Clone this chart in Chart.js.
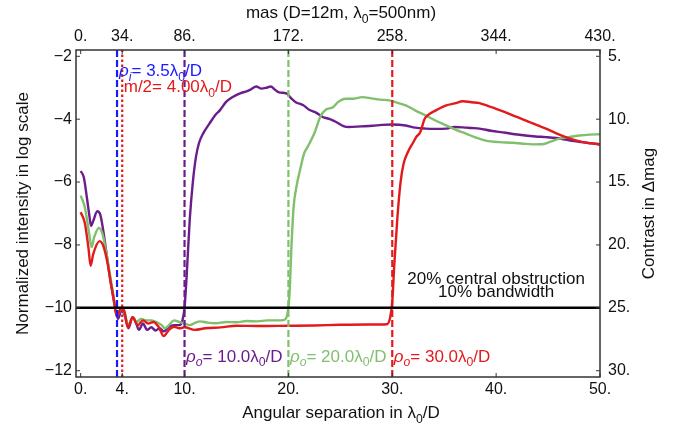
<!DOCTYPE html>
<html>
<head>
<meta charset="utf-8">
<script src="https://cdn.jsdelivr.net/npm/chart.js@4.4.1/dist/chart.umd.min.js"></script>
<style>
  body { margin: 0; background: #fff; }
  #wrap { width: 681px; height: 429px; }
</style>
</head>
<body>
<div id="wrap"><canvas id="contrast" width="681" height="429"></canvas></div>
<script>
// separation in lambda0/D, intensity as log10
const sepTicks = [0, 4, 10, 20, 30, 40, 50];
const sepTickLabels = ['0.', '4.', '10.', '20.', '30.', '40.', '50.'];
const masTickLabels = ['0.', '34.', '86.', '172.', '258.', '344.', '430.'];
const logTicks = [-2, -4, -6, -8, -10, -12];
const logTickLabels = ['\u22122', '\u22124', '\u22126', '\u22128', '\u221210', '\u221212'];
const magTickLabels = ['5.', '10.', '15.', '20.', '25.', '30.'];

const innerRadius = 3.5;     // rho_i
const maskHalf = 4.0;        // m/2
const outerRadii = [10, 20, 30];
const contrastFloor = -10;

// rho_o = 10
const sep10 = [0, 0.3, 0.6, 0.85, 1.0, 1.2, 1.6, 1.9, 2.2, 2.5, 2.8, 3.1, 3.35, 3.6, 3.9, 4.2, 4.6, 5.0, 5.3, 5.6,
  6.0, 6.4, 6.8, 7.2, 7.6, 8.0, 8.5, 9.0, 9.5, 9.8, 10.0, 10.2, 10.5, 10.8, 11.1, 11.4, 11.8, 12.4, 13.0, 13.4,
  14.0, 14.6, 15.4, 15.9, 16.4, 16.9, 17.4, 17.9, 18.3, 18.7, 19.1, 19.8, 20.3, 20.7, 21.4, 22.0, 22.7, 23.3, 24.0, 24.6,
  25.3, 25.8, 27.0, 28.1, 29.0, 30.0, 31.3, 32.2, 33.2, 34.2, 35.2, 36.0, 36.8, 37.6, 38.4, 39.5, 40.9, 41.8, 42.8, 43.8,
  44.8, 45.8, 46.7, 47.5, 48.3, 49.2, 50.0];
const int10 = [-5.65, -5.85, -6.5, -7.1, -7.4, -7.25, -6.93, -7.05, -7.6, -8.3, -9.0, -9.6, -10.05, -10.35, -10.1, -10.2, -10.65, -10.3, -10.45, -10.7,
  -10.5, -10.7, -10.62, -10.72, -10.65, -10.75, -10.6, -10.55, -10.55, -10.4, -10.0, -9.0, -7.2, -6.0, -5.2, -4.75, -4.45, -4.14, -3.85, -3.72,
  -3.45, -3.3, -3.17, -3.12, -3.05, -2.96, -3.03, -3.0, -2.96, -3.06, -3.15, -3.18, -3.35, -3.46, -3.55, -3.7, -3.8, -3.93, -4.0, -4.09,
  -4.22, -4.25, -4.23, -4.21, -4.18, -4.17, -4.2, -4.27, -4.3, -4.31, -4.3, -4.25, -4.26, -4.28, -4.3, -4.37, -4.43, -4.48, -4.52, -4.55,
  -4.57, -4.6, -4.65, -4.7, -4.73, -4.77, -4.8];

// rho_o = 20
const sep20 = [0, 0.4, 0.8, 1.05, 1.3, 1.76, 2.1, 2.5, 2.8, 3.1, 3.35, 3.6, 3.9, 4.2, 4.6, 5.0, 5.4, 5.8, 6.3, 6.8,
  7.3, 7.8, 8.1, 8.5, 9.0, 9.5, 10.0, 10.5, 11.0, 11.5, 12.2, 13.0, 14.0, 15.0, 16.0, 17.0, 18.0, 19.0, 19.6, 19.9,
  20.1, 20.3, 20.5, 20.8, 21.1, 21.5, 21.9, 22.5, 23.1, 23.6, 24.3, 24.8, 25.5, 26.3, 27.1, 28.0, 28.8, 29.7, 30.5, 31.3,
  32.2, 33.2, 34.2, 35.2, 36.2, 37.1, 38.0, 39.0, 40.3, 41.6, 42.6, 43.5, 44.6, 45.2, 46.1, 47.0, 48.0, 49.0, 50.0];
const int20 = [-6.43, -6.8, -7.6, -8.07, -7.75, -7.46, -7.65, -8.3, -8.9, -9.5, -10.0, -10.2, -10.0, -10.15, -10.55, -10.3, -10.45, -10.35, -10.4, -10.4,
  -10.45, -10.55, -10.65, -10.55, -10.4, -10.45, -10.5, -10.55, -10.48, -10.43, -10.47, -10.49, -10.45, -10.46, -10.42, -10.43, -10.4, -10.4, -10.38, -10.2,
  -9.6, -8.0, -6.8, -6.1, -5.65, -5.1, -4.85, -4.45, -3.9, -3.7, -3.62, -3.45, -3.35, -3.35, -3.3, -3.34, -3.38, -3.4, -3.48, -3.56,
  -3.72, -3.88, -4.05, -4.2, -4.35, -4.46, -4.58, -4.68, -4.73, -4.75, -4.78, -4.8, -4.79, -4.72, -4.62, -4.57, -4.52, -4.49, -4.48];

// rho_o = 30
const sep30 = [0, 0.4, 0.75, 0.96, 1.2, 1.83, 2.2, 2.6, 2.9, 3.2, 3.45, 3.6, 3.9, 4.2, 4.55, 5.0, 5.5, 6.0, 6.5, 7.0,
  7.5, 8.0, 8.5, 9.0, 9.5, 10.0, 11.0, 12.0, 13.5, 15.0, 17.0, 20.0, 22.5, 25.0, 27.5, 29.5, 29.8, 30.0, 30.2, 30.5,
  30.8, 31.1, 31.5, 32.0, 32.3, 32.7, 33.1, 33.4, 34.2, 35.2, 36.0, 36.8, 37.6, 38.4, 39.2, 40.0, 40.8, 41.6, 42.4, 43.2,
  44.0, 44.8, 45.8, 46.7, 47.5, 48.3, 49.2, 50.0];
const int30 = [-6.96, -7.3, -8.1, -8.66, -8.3, -7.88, -8.05, -8.6, -9.2, -9.75, -10.25, -10.2, -10.0, -10.1, -10.62, -10.3, -10.55, -10.4, -10.5, -10.45,
  -10.6, -10.9, -10.7, -10.6, -10.65, -10.62, -10.7, -10.65, -10.62, -10.57, -10.58, -10.57, -10.56, -10.54, -10.53, -10.52, -10.3, -9.8, -8.6, -7.1,
  -6.0, -5.4, -5.05, -4.75, -4.57, -4.41, -4.0, -3.88, -3.72, -3.56, -3.5, -3.43, -3.46, -3.49, -3.58, -3.67, -3.77, -3.88, -3.98, -4.09,
  -4.2, -4.3, -4.45, -4.57, -4.66, -4.73, -4.77, -4.8];

const X_MIN = -0.45, X_MAX = 50, Y_MIN = -12.2, Y_MAX = -1.8;
const FONT = "'Liberation Sans', Arial, sans-serif";
const PURPLE = '#6c1d8c', GREEN = '#80bf6c', RED = '#e31a1c', BLUE = '#1a1aff';

const pts = (xs, ys) => xs.map((x, i) => ({ x: x, y: ys[i] }));
const vline = v => [{ x: v, y: Y_MIN }, { x: v, y: Y_MAX }];

const curve = (data, color) => ({
  data: data, borderColor: color, borderWidth: 2.4, pointRadius: 0,
  cubicInterpolationMode: 'monotone', fill: false
});
const marker = (v, color, dash) => ({
  data: vline(v), borderColor: color, borderWidth: 2.2, borderDash: dash,
  pointRadius: 0, tension: 0, fill: false
});

// text with italic / subscript runs, drawn left-aligned or centred at a baseline
function drawRich(ctx, parts, x, y, size, color, align) {
  const fontOf = p => (p.it ? 'italic ' : '') + (p.sub ? size * 0.72 : size) + 'px ' + FONT;
  let w = 0;
  parts.forEach(p => { ctx.font = fontOf(p); w += ctx.measureText(p.t).width; });
  let cx = align === 'center' ? x - w / 2 : x;
  ctx.fillStyle = color;
  ctx.textAlign = 'left';
  ctx.textBaseline = 'alphabetic';
  parts.forEach(p => {
    ctx.font = fontOf(p);
    ctx.fillText(p.t, cx, y + (p.sub ? size * 0.28 : 0));
    cx += ctx.measureText(p.t).width;
  });
}
const lam = [{ t: '\u03bb' }, { t: '0', sub: true }, { t: '/D' }];

const decorations = {
  id: 'decorations',
  afterDraw(chart) {
    const ctx = chart.ctx, a = chart.chartArea;
    const xs = chart.scales.x, ys = chart.scales.y;
    ctx.save();
    // frame with inward ticks
    ctx.strokeStyle = '#333';
    ctx.lineWidth = 1.5;
    ctx.strokeRect(a.left, a.top, a.right - a.left, a.bottom - a.top);
    ctx.lineWidth = 1;
    ctx.beginPath();
    sepTicks.forEach(v => {
      const px = xs.getPixelForValue(v);
      ctx.moveTo(px, a.bottom); ctx.lineTo(px, a.bottom - 4);
      ctx.moveTo(px, a.top); ctx.lineTo(px, a.top + 4);
    });
    logTicks.forEach(v => {
      const py = ys.getPixelForValue(v);
      ctx.moveTo(a.left, py); ctx.lineTo(a.left + 4, py);
      ctx.moveTo(a.right, py); ctx.lineTo(a.right - 4, py);
    });
    ctx.stroke();

    // axis titles
    const midX = (a.left + a.right) / 2, midY = (a.top + a.bottom) / 2;
    drawRich(ctx, [{ t: 'Angular separation in ' }].concat(lam), midX + 3, 418, 17, '#111', 'center');
    drawRich(ctx, [{ t: 'mas (D=12m, \u03bb' }, { t: '0', sub: true }, { t: '=500nm)' }], midX + 3, 18, 17, '#111', 'center');
    ctx.save();
    ctx.translate(28, midY); ctx.rotate(-Math.PI / 2);
    drawRich(ctx, [{ t: 'Normalized intensity in log scale' }], 0, 0, 17, '#111', 'center');
    ctx.restore();
    ctx.save();
    ctx.translate(654, midY); ctx.rotate(-Math.PI / 2);
    drawRich(ctx, [{ t: 'Contrast in \u0394mag' }], 0, 0, 17, '#111', 'center');
    ctx.restore();

    // marker labels
    drawRich(ctx, [{ t: '\u03c1', it: true }, { t: 'i', sub: true, it: true }, { t: '= ' + innerRadius.toFixed(1) }].concat(lam),
      xs.getPixelForValue(innerRadius) + 2, ys.getPixelForValue(-2.45) + 6, 17, BLUE, 'left');
    drawRich(ctx, [{ t: 'm/2= ' + maskHalf.toFixed(2) }].concat(lam),
      xs.getPixelForValue(maskHalf) + 1.5, ys.getPixelForValue(-2.95) + 6, 17, RED, 'left');
    [PURPLE, GREEN, RED].forEach((c, i) => {
      const r = outerRadii[i];
      drawRich(ctx, [{ t: '\u03c1', it: true }, { t: 'o', sub: true, it: true }, { t: '= ' + r.toFixed(1) }].concat(lam),
        xs.getPixelForValue(r) + 1.5, ys.getPixelForValue(-11.52) + 6, 17, c, 'left');
    });
    drawRich(ctx, [{ t: '20% central obstruction' }], xs.getPixelForValue(40.0), ys.getPixelForValue(-9.04) + 6, 17, '#111', 'center');
    drawRich(ctx, [{ t: '10% bandwidth' }], xs.getPixelForValue(40.0), ys.getPixelForValue(-9.48) + 6, 17, '#111', 'center');
    ctx.restore();
  }
};

const tickFont = { family: FONT, size: 16 };
const fixedTicks = vals => scale => { scale.ticks = vals.map(v => ({ value: v })); };

new Chart(document.getElementById('contrast'), {
  type: 'line',
  data: {
    datasets: [
      { data: [{ x: X_MIN, y: contrastFloor }, { x: X_MAX, y: contrastFloor }], borderColor: '#000', borderWidth: 2.5, pointRadius: 0, tension: 0 },
      marker(innerRadius, BLUE, [7, 3]),
      marker(maskHalf, RED, [2.5, 2.5]),
      marker(outerRadii[0], PURPLE, [7, 3]),
      marker(outerRadii[1], GREEN, [7, 3]),
      marker(outerRadii[2], RED, [7, 3]),
      curve(pts(sep30, int30), RED),
      curve(pts(sep20, int20), GREEN),
      curve(pts(sep10, int10), PURPLE)
    ]
  },
  options: {
    responsive: false,
    animation: false,
    events: [],
    layout: { padding: 0 },
    plugins: { legend: { display: false }, tooltip: { enabled: false } },
    scales: {
      x: {
        type: 'linear', position: 'bottom', min: X_MIN, max: X_MAX,
        afterBuildTicks: fixedTicks(sepTicks),
        afterFit: s => { s.height = 52; },
        grid: { display: false, drawTicks: false }, border: { display: false },
        ticks: { font: tickFont, color: '#111', padding: 3, maxRotation: 0, autoSkip: false,
          callback: (v, i) => sepTickLabels[i] }
      },
      x2: {
        type: 'linear', position: 'top', min: X_MIN, max: X_MAX,
        afterBuildTicks: fixedTicks(sepTicks),
        afterFit: s => { s.height = 50; },
        grid: { display: false, drawTicks: false }, border: { display: false },
        ticks: { font: tickFont, color: '#111', padding: 4, maxRotation: 0, autoSkip: false,
          callback: (v, i) => masTickLabels[i] }
      },
      y: {
        type: 'linear', position: 'left', min: Y_MIN, max: Y_MAX,
        afterBuildTicks: fixedTicks(logTicks),
        afterFit: s => { s.width = 76; },
        grid: { display: false, drawTicks: false }, border: { display: false },
        ticks: { font: tickFont, color: '#111', padding: 4, autoSkip: false,
          callback: (v, i) => logTickLabels[i] }
      },
      y2: {
        type: 'linear', position: 'right', min: Y_MIN, max: Y_MAX,
        afterBuildTicks: fixedTicks(logTicks),
        afterFit: s => { s.width = 81; },
        grid: { display: false, drawTicks: false }, border: { display: false },
        ticks: { font: tickFont, color: '#111', padding: 8, autoSkip: false,
          callback: (v, i) => magTickLabels[i] }
      }
    }
  },
  plugins: [decorations]
});
</script>
</body>
</html>
